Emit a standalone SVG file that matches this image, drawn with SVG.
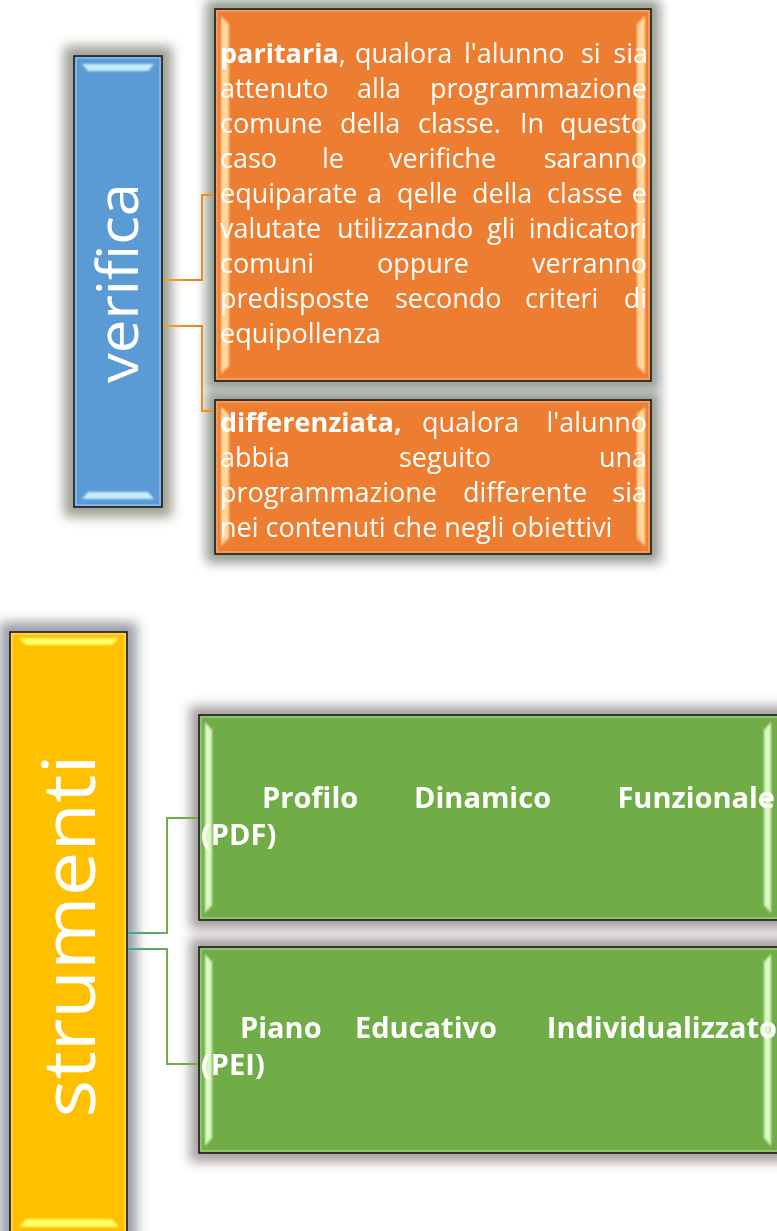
<svg xmlns="http://www.w3.org/2000/svg" width="777" height="1231" viewBox="0 0 777 1231">
<defs>
<filter id="blur" x="-30%" y="-30%" width="160%" height="160%"><feGaussianBlur stdDeviation="6"/></filter>
<filter id="soft" x="-50%" y="-50%" width="200%" height="200%"><feGaussianBlur stdDeviation="0.8"/></filter>
<linearGradient id="gconn" gradientUnits="userSpaceOnUse" x1="127" y1="0" x2="168" y2="0"><stop offset="0" stop-color="#3f9fa6"/><stop offset="1" stop-color="#70ad47"/></linearGradient>
<linearGradient id="oconn" gradientUnits="userSpaceOnUse" x1="162" y1="0" x2="202" y2="0"><stop offset="0" stop-color="#f0a81a"/><stop offset="1" stop-color="#e2802a"/></linearGradient>
<style>
.box{stroke:#1c1c1c;stroke-width:1.6}
.ot{font-family:"Open Sans","Noto Sans",sans-serif;font-size:27px;fill:#fff}
.b{font-weight:bold}
.gt{font-family:"Open Sans","Noto Sans",sans-serif;font-size:29px;font-weight:bold;fill:#fff}
.big{font-family:"Open Sans","Noto Sans",sans-serif;fill:#fff}
.e{text-anchor:end}
.conn{fill:none;stroke-width:2}
</style>
</defs>
<rect width="777" height="1231" fill="#fff"/>

<g id="shadows" opacity="0.95">
<rect x="64" y="46" width="108" height="471" fill="#9a9a8c" filter="url(#blur)"/>
<rect x="206" y="0" width="454" height="390" fill="#8c978a" filter="url(#blur)"/>
<rect x="206" y="391" width="454" height="172" fill="#8c978a" filter="url(#blur)"/>
<rect x="0" y="622" width="137" height="630" fill="#959aa5" filter="url(#blur)"/>
<rect x="190" y="706" width="600" height="223" fill="#a09a98" filter="url(#blur)"/>
<rect x="190" y="938" width="600" height="224" fill="#a09a98" filter="url(#blur)"/>
</g>

<g id="connectors">
<path class="conn" stroke="#e8901e" d="M202,280 V195 H215"/>
<path class="conn" stroke="#e8901e" d="M202,326 V411 H215"/>
<path class="conn" stroke="url(#oconn)" d="M162,280 H203"/>
<path class="conn" stroke="url(#oconn)" d="M162,326 H203"/>
<path class="conn" stroke="#70ad47" d="M167,933 V818 H199"/>
<path class="conn" stroke="#70ad47" d="M167,949 V1064 H199"/>
<path class="conn" stroke="url(#gconn)" d="M127,933 H168"/>
<path class="conn" stroke="url(#gconn)" d="M127,949 H168"/>
</g>

<g id="verifica">
<rect class="box" x="74" y="56" width="88" height="451" fill="#5b9bd5"/>
<rect x="76" y="58" width="84" height="447" fill="none" stroke="#a8d0f2" stroke-width="1.4" opacity="0.7"/>
<polygon points="82,64 154,64 148,71 88,71" fill="#c6ecff" filter="url(#soft)"/>
<polygon points="88,492 148,492 154,499 82,499" fill="#c6ecff" filter="url(#soft)"/>
<text class="big" transform="translate(138,283) rotate(-90)" text-anchor="middle" font-size="57" textLength="200" lengthAdjust="spacingAndGlyphs">verifica</text>
</g>

<g id="paritaria">
<rect class="box" x="215" y="9" width="436" height="372" fill="#ed7d31"/>
<rect x="217" y="11" width="432" height="368" fill="none" stroke="#f6b07e" stroke-width="1.4" opacity="0.8"/>
<polygon points="221,16 229,24 229,366 221,374" fill="#ffd79a" filter="url(#soft)"/>
<polygon points="645,16 637,24 637,366 645,374" fill="#ffd79a" filter="url(#soft)"/>
<text class="ot" x="220" y="63"><tspan class="b">paritaria</tspan>,</text>
<text class="ot" x="355" y="63">qualora</text>
<text class="ot" x="464" y="63">l'alunno</text>
<text class="ot" x="581" y="63">si</text>
<text class="ot e" x="648" y="63">sia</text>
<text class="ot" x="220" y="98">attenuto</text>
<text class="ot" x="357" y="98">alla</text>
<text class="ot e" x="647" y="98">programmazione</text>
<text class="ot" x="220" y="133">comune</text>
<text class="ot" x="340" y="133">della</text>
<text class="ot" x="418" y="133">classe.</text>
<text class="ot" x="520" y="133">In</text>
<text class="ot e" x="647" y="133">questo</text>
<text class="ot" x="220" y="168">caso</text>
<text class="ot" x="322" y="168">le</text>
<text class="ot" x="389" y="168">verifiche</text>
<text class="ot e" x="647" y="168">saranno</text>
<text class="ot" x="220" y="203">equiparate</text>
<text class="ot" x="367" y="203">a</text>
<text class="ot" x="397" y="203">qelle</text>
<text class="ot" x="472" y="203">della</text>
<text class="ot" x="547" y="203">classe</text>
<text class="ot e" x="647" y="203">e</text>
<text class="ot" x="220" y="238">valutate</text>
<text class="ot" x="337" y="238">utilizzando</text>
<text class="ot" x="487" y="238">gli</text>
<text class="ot e" x="647" y="238">indicatori</text>
<text class="ot" x="220" y="273">comuni</text>
<text class="ot" x="377" y="273">oppure</text>
<text class="ot e" x="647" y="273">verranno</text>
<text class="ot" x="220" y="308">predisposte</text>
<text class="ot" x="395" y="308">secondo</text>
<text class="ot" x="525" y="308">criteri</text>
<text class="ot e" x="647" y="308">di</text>
<text class="ot" x="220" y="343">equipollenza</text>
</g>

<g id="differenziata">
<rect class="box" x="215" y="400" width="436" height="154" fill="#ed7d31"/>
<rect x="217" y="402" width="432" height="150" fill="none" stroke="#f6b07e" stroke-width="1.4" opacity="0.8"/>
<polygon points="221,407 229,414 229,538 221,546" fill="#ffd79a" filter="url(#soft)"/>
<polygon points="645,407 637,414 637,538 645,546" fill="#ffd79a" filter="url(#soft)"/>
<text class="ot b" x="220" y="432">differenziata,</text>
<text class="ot" x="422" y="432">qualora</text>
<text class="ot e" x="647" y="432">l'alunno</text>
<text class="ot" x="220" y="467">abbia</text>
<text class="ot" x="399" y="467">seguito</text>
<text class="ot e" x="647" y="467">una</text>
<text class="ot" x="220" y="502">programmazione</text>
<text class="ot" x="463" y="502">differente</text>
<text class="ot e" x="647" y="502">sia</text>
<text class="ot" x="220" y="537">nei contenuti che negli obiettivi</text>
</g>

<g id="strumenti">
<rect class="box" x="10" y="632" width="117" height="612" fill="#ffc000"/>
<rect x="12" y="634" width="113" height="608" fill="none" stroke="#ffe07a" stroke-width="1.4" opacity="0.8"/>
<polygon points="19,638 119,638 112,645 26,645" fill="#ffff66" filter="url(#soft)"/>
<polygon points="26,1219 112,1219 119,1227 19,1227" fill="#ffff66" filter="url(#soft)"/>
<text class="big" transform="translate(95,936) rotate(-90)" text-anchor="middle" font-size="74" textLength="363" lengthAdjust="spacingAndGlyphs">strumenti</text>
</g>

<g id="pdf">
<rect class="box" x="199" y="715" width="590" height="205" fill="#70ad47"/>
<rect x="201" y="717" width="586" height="201" fill="none" stroke="#a8d58a" stroke-width="1.4" opacity="0.8"/>
<polygon points="205,722 212,730 212,905 205,913" fill="#dcf8c4" filter="url(#soft)"/>
<polygon points="771,722 764,730 764,905 771,913" fill="#dcf8c4" filter="url(#soft)"/>
<text class="gt" x="262" y="808">Profilo</text>
<text class="gt" x="414" y="808">Dinamico</text>
<text class="gt e" x="775" y="808">Funzionale</text>
<text class="gt" x="201" y="845">(PDF)</text>
</g>

<g id="pei">
<rect class="box" x="199" y="947" width="590" height="206" fill="#70ad47"/>
<rect x="201" y="949" width="586" height="202" fill="none" stroke="#a8d58a" stroke-width="1.4" opacity="0.8"/>
<polygon points="205,954 212,962 212,1138 205,1146" fill="#dcf8c4" filter="url(#soft)"/>
<polygon points="771,954 764,962 764,1138 771,1146" fill="#dcf8c4" filter="url(#soft)"/>
<text class="gt" x="240" y="1038">Piano</text>
<text class="gt" x="355" y="1038">Educativo</text>
<text class="gt e" x="777" y="1038">Individualizzato</text>
<text class="gt" x="201" y="1075">(PEI)</text>
</g>
</svg>
